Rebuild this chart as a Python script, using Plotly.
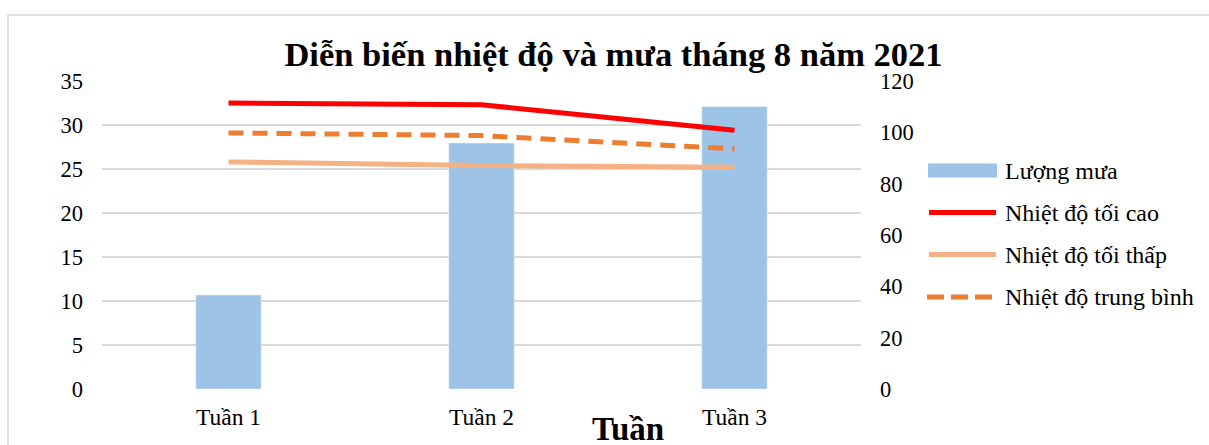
import plotly.graph_objects as go

categories = ["Tuần 1", "Tuần 2", "Tuần 3"]
rain = [36.6, 95.8, 110.0]
t_max = [32.5, 32.3, 29.4]
t_min = [25.8, 25.4, 25.2]
t_avg = [29.1, 28.8, 27.3]
series_names = ["Lượng mưa", "Nhiệt độ tối cao", "Nhiệt độ tối thấp", "Nhiệt độ trung bình"]
left_ticks = [0, 5, 10, 15, 20, 25, 30, 35]
right_ticks = [0, 20, 40, 60, 80, 100, 120]

W, H = 1209, 445
L, R, T, B = 102, 861, 81, 389
FONT = "Liberation Serif"
C_BAR = "#9DC3E6"
C_MAX = "#FF0000"
C_MIN = "#F4B183"
C_AVG = "#ED7D31"

def px(x):
    return (x - L) / (R - L)

def py(y):
    return (B - y) / (B - T)

fig = go.Figure()
fig.add_trace(go.Bar(x=categories, y=rain, name=series_names[0], marker_color=C_BAR,
                     width=0.258, yaxis="y", xaxis="x"))
fig.add_trace(go.Scatter(x=categories, y=t_max, name=series_names[1], mode="lines",
                         line=dict(color=C_MAX, width=5), yaxis="y2"))
fig.add_trace(go.Scatter(x=categories, y=t_min, name=series_names[2], mode="lines",
                         line=dict(color=C_MIN, width=5), yaxis="y2"))
fig.add_trace(go.Scatter(x=categories, y=t_avg, name=series_names[3], mode="lines",
                         line=dict(color=C_AVG, width=5, dash="15px,9px"), yaxis="y2"))

shapes = [
    dict(type="rect", xref="paper", yref="paper", x0=px(8), x1=px(1300), y0=py(15), y1=py(560),
         line=dict(color="#d9d9d9", width=1.5), fillcolor="rgba(0,0,0,0)", layer="below"),
    # legend swatches
    dict(type="rect", xref="paper", yref="paper", x0=px(928), x1=px(997), y0=py(163.5), y1=py(177.5),
         line=dict(width=0), fillcolor=C_BAR),
    dict(type="line", xref="paper", yref="paper", x0=px(929), x1=px(996), y0=py(212.5), y1=py(212.5),
         line=dict(color=C_MAX, width=5)),
    dict(type="line", xref="paper", yref="paper", x0=px(929), x1=px(996), y0=py(254.5), y1=py(254.5),
         line=dict(color=C_MIN, width=5)),
    dict(type="line", xref="paper", yref="paper", x0=px(927), x1=px(996), y0=py(297), y1=py(297),
         line=dict(color=C_AVG, width=5, dash="17px,7px")),
]

annotations = []
for name, yc in zip(series_names, [171, 213, 255, 297]):
    annotations.append(dict(text=name, xref="paper", yref="paper", x=px(1003), y=py(yc),
                            xanchor="left", yanchor="middle", showarrow=False,
                            font=dict(family=FONT, size=24, color="#000")))
annotations.append(dict(text="<b>Tuần</b>", xref="paper", yref="paper", x=px(627.5), y=py(428.5),
                        xanchor="center", yanchor="middle", showarrow=False,
                        font=dict(family=FONT, size=33, color="#000")))

fig.update_layout(
    width=W, height=H,
    margin=dict(l=L, r=W - R, t=T, b=H - B),
    paper_bgcolor="white", plot_bgcolor="white",
    showlegend=False,
    title=dict(text="<b>Diễn biến nhiệt độ và mưa tháng 8 năm 2021</b>", x=613.5 / W,
               xref="container", xanchor="center", y=1 - 54 / H, yanchor="middle",
               font=dict(family=FONT, size=34.5, color="#000")),
    xaxis=dict(type="category", range=[-0.5, 2.5], showgrid=False, zeroline=False, showline=False,
               ticks="", tickfont=dict(family=FONT, size=23.5, color="#000"), ticklabelstandoff=11),
    yaxis=dict(side="right", range=[0, 120], tickvals=right_ticks, showgrid=False, zeroline=False,
               showline=False, ticks="", tickfont=dict(family=FONT, size=22.5, color="#000"),
               ticklabelstandoff=18),
    yaxis2=dict(side="left", overlaying="y", range=[0, 35], tickvals=left_ticks, showgrid=True,
                gridcolor="#d9d9d9", gridwidth=1.5, zeroline=False, showline=False, ticks="",
                tickfont=dict(family=FONT, size=22.5, color="#000"), ticklabelstandoff=18),
    shapes=shapes,
    annotations=annotations,
)

fig.write_html("out.html", config={"displayModeBar": False},
               post_script="document.body.style.margin='0';document.body.style.overflow='hidden';")
